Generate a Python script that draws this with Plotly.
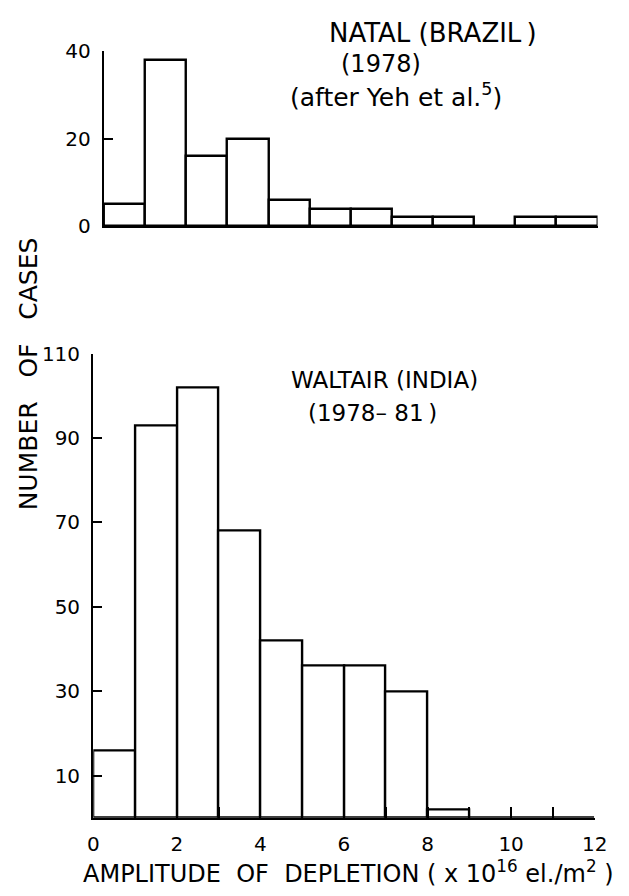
import plotly.graph_objects as go

# ---- data ----
bin_starts = [0, 1, 2, 3, 4, 5, 6, 7, 8, 9, 10, 11]
natal_counts = [5, 38, 16, 20, 6, 4, 4, 2, 2, 0, 2, 2]
waltair_counts = [16, 93, 102, 68, 42, 36, 36, 30, 2, 0, 0, 0]

natal_yticks = [0, 20, 40]
waltair_yticks = [10, 30, 50, 70, 90, 110]
x_tickvals = [0, 1, 2, 3, 4, 5, 6, 7, 8, 9, 10, 11, 12]
x_ticktext = ["0", "", "2", "", "4", "", "6", "", "8", "", "10", "", "12"]

FONT = "DejaVu Sans"
W, H = 629, 896

fig = go.Figure()

bar_style = dict(marker=dict(color="white", line=dict(color="black", width=2.4)),
                 width=1, offset=0, showlegend=False, hoverinfo="skip")

fig.add_trace(go.Bar(x=bin_starts, y=natal_counts, xaxis="x", yaxis="y", **bar_style))
fig.add_trace(go.Bar(x=bin_starts, y=waltair_counts, xaxis="x2", yaxis="y2", **bar_style))

tickfont = dict(family=FONT, size=20, color="black")

fig.update_layout(
    width=W, height=H,
    margin=dict(l=0, r=0, t=0, b=0),
    paper_bgcolor="white", plot_bgcolor="white",
    bargap=0,
    xaxis=dict(domain=[101 / W, 610 / W], range=[0, 12], anchor="y",
               showline=True, linecolor="black", linewidth=2.4,
               showticklabels=False, ticks="", showgrid=False, zeroline=False),
    yaxis=dict(domain=[1 - 220 / H, 1 - 40 / H], range=[0, 40], anchor="x",
               showline=True, linecolor="black", linewidth=2.4,
               tickvals=natal_yticks, ticks="inside", ticklen=9, tickwidth=2,
               tickcolor="black", tickfont=tickfont, ticklabelstandoff=7,
               showgrid=False, zeroline=False),
    xaxis2=dict(domain=[90 / W, 607 / W], range=[0, 12], anchor="y2",
                showline=True, linecolor="black", linewidth=2.4,
                tickvals=x_tickvals, ticktext=x_ticktext, ticks="inside",
                ticklen=11, tickwidth=2, tickcolor="black", tickfont=tickfont,
                ticklabelstandoff=7, showgrid=False, zeroline=False),
    yaxis2=dict(domain=[1 - 828 / H, 1 - 351 / H], range=[0, 110], anchor="x2",
                showline=True, linecolor="black", linewidth=2.4,
                tickvals=waltair_yticks, ticks="inside", ticklen=9, tickwidth=2,
                tickcolor="black", tickfont=tickfont, ticklabelstandoff=7,
                showgrid=False, zeroline=False),
)

def ann(text, px, py, size, angle=0):
    fig.add_annotation(text=text, x=px / W, y=1 - py / H, xref="paper", yref="paper",
                       xanchor="center", yanchor="middle", showarrow=False,
                       textangle=angle, font=dict(family=FONT, size=size, color="black"))

ann("NATAL (BRAZIL\u2009)", 440, 22, 26)
ann("(1978)", 387, 53, 24)
ann("(after Yeh et al.<sup>5</sup>)", 402, 86, 25)
ann("WALTAIR (INDIA)", 390, 378, 23)
ann("(1978\u2013 81\u2009)", 378, 412, 23)
ann("NUMBER\u00a0\u00a0\u00a0OF\u00a0\u00a0\u00a0CASES", 23, 372, 25, angle=-90)
ann("AMPLITUDE\u00a0\u00a0OF\u00a0\u00a0DEPLETION\u00a0( x 10<sup>16</sup> el./m<sup>2</sup> )", 353, 884, 24)

fig.write_html("out.html")
